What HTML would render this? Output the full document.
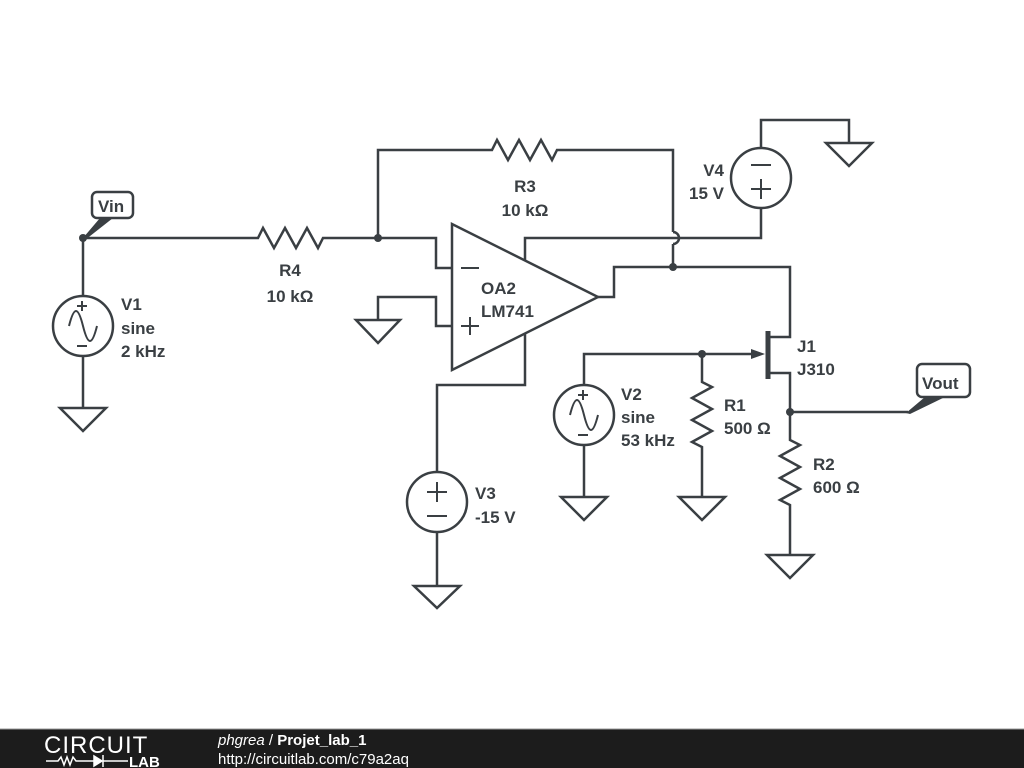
<!DOCTYPE html>
<html><head><meta charset="utf-8"><style>
html,body{margin:0;padding:0;background:#fff;width:1024px;height:768px;overflow:hidden}
svg{display:block}
text{font-family:"Liberation Sans",sans-serif;font-weight:bold;font-size:17px;fill:#3a3f43}
</style></head><body>
<svg width="1024" height="768" viewBox="0 0 1024 768">
<g stroke="#3a3f43" stroke-width="2.5" fill="none" stroke-linejoin="miter">
<polyline points="83,238 258,238 263,228 274,248 285,228 296,248 307,228 318,248 323,238 436,238 436,268 452,268"/>
<polyline points="378,238 378,150 492,150 497,140 508,160 519,140 530,160 541,140 552,160 557,150 673,150 673,232"/>
<path d="M673,232 A6,6 0 0 1 673,244"/>
<polyline points="673,244 673,267"/>
<polyline points="598,297 614,297 614,267 790,267 790,337 768,337"/>
<polygon points="452,224 452,370 598,297"/>
<polyline points="525,260 525,238 761,238 761,208"/>
<circle cx="761" cy="178" r="30"/>
<polyline points="761,148 761,120 849,120 849,143"/>
<polygon points="826,143 872,143 849,166"/>
<polyline points="452,326 436,326 436,297 378,297 378,320"/>
<polygon points="356,320 400,320 378,343"/>
<polyline points="525,334 525,385 437,385 437,472"/>
<circle cx="437" cy="502" r="30"/>
<polyline points="437,532 437,586"/>
<polygon points="414,586 460,586 437,608"/>
<polyline points="83,238 83,296"/>
<circle cx="83" cy="326" r="30"/>
<polyline points="83,356 83,408"/>
<polygon points="60,408 106,408 83,431"/>
<polyline points="584,385 584,354 760,354"/>
<circle cx="584" cy="415" r="30"/>
<polyline points="584,445 584,497"/>
<polygon points="561,497 607,497 584,520"/>
<polyline points="702,354 702,382 712,387 692,398 712,409 692,420 712,431 692,442 702,447 702,497"/>
<polygon points="679,497 725,497 702,520"/>
<polyline points="768,373 790,373 790,412 908,412"/>
<polyline points="790,412 790,440 800,445 780,456 800,467 780,478 800,489 780,500 790,505 790,555"/>
<polygon points="767,555 813,555 790,578"/>
<rect x="92" y="192" width="41" height="26" rx="5"/>
<rect x="917" y="364" width="53" height="33" rx="5"/>
</g>
<line x1="768" y1="331" x2="768" y2="379" stroke="#3a3f43" stroke-width="5"/>
<polygon points="765,354 751,349 751,359" fill="#3a3f43"/>
<polygon points="83,238 100,218 113,218 85,240" fill="#3a3f43"/>
<polygon points="906,413 925,397 945,397 910,414" fill="#3a3f43"/>
<g fill="#3a3f43">
<circle cx="83" cy="238" r="4"/><circle cx="378" cy="238" r="4"/><circle cx="673" cy="267" r="4"/>
<circle cx="702" cy="354" r="4"/><circle cx="790" cy="412" r="4"/>
</g>
<g stroke="#3a3f43" stroke-width="2" fill="none">
<line x1="461" y1="268" x2="479" y2="268"/>
<line x1="461" y1="326" x2="479" y2="326"/><line x1="470" y1="317" x2="470" y2="335"/>
<line x1="751" y1="165" x2="771" y2="165"/>
<line x1="751" y1="189" x2="771" y2="189"/><line x1="761" y1="179" x2="761" y2="199"/>
<line x1="427" y1="492" x2="447" y2="492"/><line x1="437" y1="482" x2="437" y2="502"/>
<line x1="427" y1="516" x2="447" y2="516"/>
<path d="M69,326 C74,306 78,306 83,326 C88,346 92,346 97,326"/>
<line x1="77" y1="306" x2="87" y2="306"/><line x1="82" y1="301" x2="82" y2="311"/>
<line x1="77" y1="346" x2="87" y2="346"/>
<path d="M570,415 C575,395 579,395 584,415 C589,435 593,435 598,415"/>
<line x1="578" y1="395" x2="588" y2="395"/><line x1="583" y1="390" x2="583" y2="400"/>
<line x1="578" y1="435" x2="588" y2="435"/>
</g>
<text x="98" y="212">Vin</text>
<text x="922" y="389">Vout</text>
<text x="290" y="276" text-anchor="middle">R4</text>
<text x="290" y="302" text-anchor="middle">10 kΩ</text>
<text x="525" y="192" text-anchor="middle">R3</text>
<text x="525" y="216" text-anchor="middle">10 kΩ</text>
<text x="481" y="294">OA2</text>
<text x="481" y="317">LM741</text>
<text x="724" y="176" text-anchor="end">V4</text>
<text x="724" y="199" text-anchor="end">15 V</text>
<text x="121" y="310">V1</text>
<text x="121" y="334">sine</text>
<text x="121" y="357">2 kHz</text>
<text x="475" y="499">V3</text>
<text x="475" y="523">-15 V</text>
<text x="621" y="400">V2</text>
<text x="621" y="423">sine</text>
<text x="621" y="446">53 kHz</text>
<text x="724" y="411">R1</text>
<text x="724" y="434">500 Ω</text>
<text x="797" y="352">J1</text>
<text x="797" y="375">J310</text>
<text x="813" y="470">R2</text>
<text x="813" y="493">600 Ω</text>
<rect x="0" y="729" width="1024" height="39" fill="#1c1c1c"/>
<line x1="0" y1="729" x2="1024" y2="729" stroke="#999" stroke-width="1"/>
<text x="44" y="753" style="font-weight:normal;font-size:24px;fill:#fff;letter-spacing:1px">CIRCUIT</text>
<g stroke="#fff" stroke-width="1.5" fill="none">
<polyline points="46,761 58,761 61,757 64,765 67,757 70,765 73,757 76,761 94,761"/>
<polygon points="94,756 94,766 102,761" fill="#fff"/><line x1="103" y1="755" x2="103" y2="767"/>
<line x1="103" y1="761" x2="128" y2="761"/>
</g>
<text x="129" y="767" style="font-size:15px;fill:#fff">LAB</text>
<text x="218" y="745" style="font-weight:normal;font-style:italic;font-size:15px;fill:#fff">phgrea <tspan style="font-style:normal">/</tspan> <tspan style="font-style:normal;font-weight:bold">Projet_lab_1</tspan></text>
<text x="218" y="764" style="font-weight:normal;font-size:15px;fill:#fff">http://circuitlab.com/c79a2aq</text>
</svg>
</body></html>
